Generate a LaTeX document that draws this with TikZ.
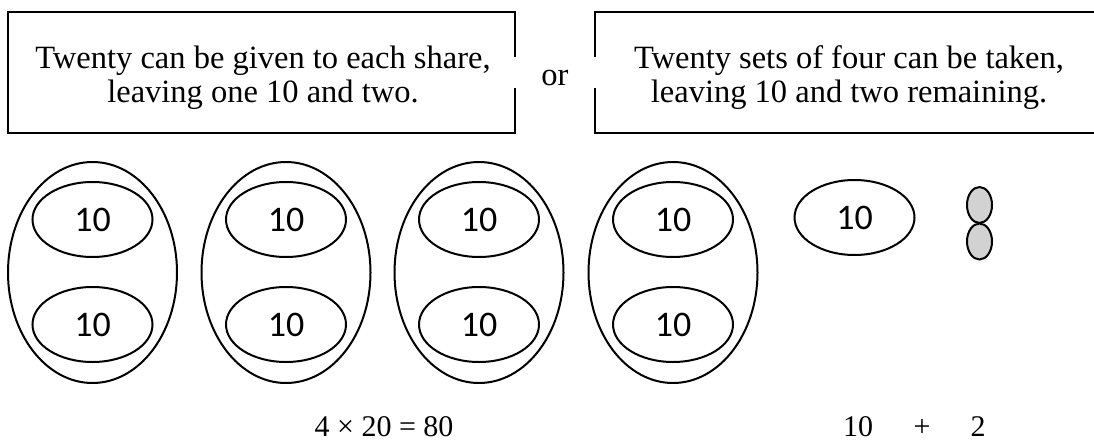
\documentclass[tikz,border=0pt]{standalone}
\usepackage{fontspec}
\setmainfont{Liberation Serif}
\newfontfamily\digitfont{Carlito}
\usetikzlibrary{shapes.geometric}
\tikzset{
  boxline/.style={line width=1.4pt, line cap=butt},
  bigegg/.style={draw, line width=2pt, ellipse, inner sep=0pt, minimum width=169pt, minimum height=221pt},
  ten/.style={draw, line width=2pt, ellipse, inner sep=0pt, minimum width=120pt, minimum height=75pt,
    font=\digitfont\fontsize{36}{36}\selectfont},
  one/.style={draw, line width=2pt, ellipse, inner sep=0pt, minimum width=25pt, minimum height=36pt, fill=gray!35},
  serif/.style={font=\fontsize{32.5}{34}\selectfont, inner sep=0pt, anchor=base},
  mathtext/.style={font=\fontsize{30}{32}\selectfont, inner sep=0pt, anchor=base},
}
\begin{document}
\begin{tikzpicture}[x=1pt, y=-1pt]
\useasboundingbox (0,0) rectangle (1094,444);
% box 1
\coordinate (b1a) at (515,57);
\coordinate (b1b) at (515,88);
\draw[boxline] (b1a) -- (515,12) -- (8,12) -- (8,133) -- (515,133) -- (b1b);
\node[serif] (t1a) at (263,68) {Twenty can be given to each share,};
\node[serif] (t1b) at (263,102) {leaving one 10 and two.};
% or
\node[serif] (or) at (555,85) {or};
% box 2
\coordinate (b2a) at (595,57);
\coordinate (b2b) at (595,88);
\draw[boxline] (b2a) -- (595,12) -- (1100,12);
\draw[boxline] (b2b) -- (595,133) -- (1100,133);
\node[serif] (t2a) at (849,68) {Twenty sets of four can be taken,};
\node[serif] (t2b) at (849,102) {leaving 10 and two remaining.};
% groups
\foreach \i/\x in {1/92.5, 2/286, 3/479, 4/673}{
  \node[bigegg] (g\i) at (\x,272.5) {};
  \node[ten] (g\i a) at (\x,219.5) {10};
  \node[ten] (g\i b) at (\x,324.5) {10};
}
\node[ten] (rest) at (854.5,217.5) {10};
\node[one] (u1) at (979.5,205) {};
\node[one] (u2) at (979.5,241.5) {};
% equations
\node[mathtext] (eq) at (384,436) {4 × 20 = 80};
\node[mathtext] (r10) at (858,436) {10};
\node[mathtext] (rplus) at (922,436) {+};
\node[mathtext] (r2) at (978,436) {2};
\end{tikzpicture}
\end{document}
